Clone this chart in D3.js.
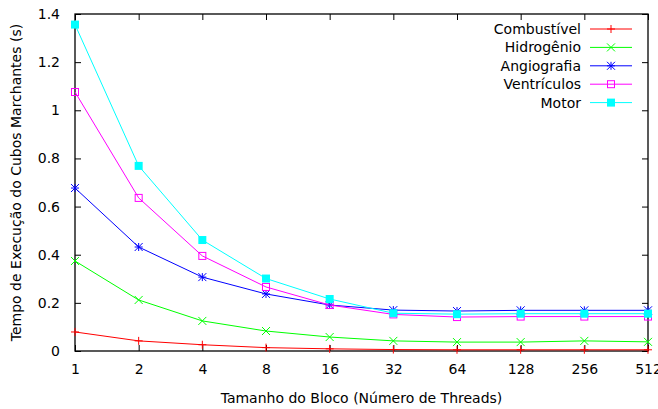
<!DOCTYPE html>
<html lang="pt">
<head>
<meta charset="UTF-8">
<script src="https://d3js.org/d3.v7.min.js"></script>
<style>
  body { margin: 0; background: #fff; }
  text { font-family: "DejaVu Sans", sans-serif; font-size: 14px; fill: #000; }
</style>
</head>
<body>
<div id="container"></div>
<script>
// dados
var blocos = [1, 2, 4, 8, 16, 32, 64, 128, 256, 512];
var combustivel = [0.079, 0.042, 0.026, 0.014, 0.009, 0.006, 0.005, 0.005, 0.005, 0.005];
var hidrogenio  = [0.374, 0.212, 0.125, 0.083, 0.058, 0.042, 0.037, 0.037, 0.042, 0.038];
var angiografia = [0.677, 0.432, 0.307, 0.237, 0.191, 0.170, 0.166, 0.169, 0.169, 0.169];
var ventriculos = [1.076, 0.636, 0.395, 0.266, 0.191, 0.152, 0.141, 0.143, 0.143, 0.143];
var motor       = [1.356, 0.769, 0.461, 0.301, 0.216, 0.157, 0.153, 0.155, 0.155, 0.155];
var yTicks = [0, 0.2, 0.4, 0.6, 0.8, 1, 1.2, 1.4];

var series = [
  {name: "Combustível", values: combustivel, color: "#ff0000", marker: "plus"},
  {name: "Hidrogênio",  values: hidrogenio,  color: "#00ff00", marker: "cross"},
  {name: "Angiografia", values: angiografia, color: "#0000ff", marker: "star"},
  {name: "Ventrículos", values: ventriculos, color: "#ff00ff", marker: "box"},
  {name: "Motor",       values: motor,       color: "#00ffff", marker: "fbox"}
];

var width = 658, height = 409;
var mLeft = 75, mRight = 648, mTop = 14, mBottom = 351;

var svg = d3.select("#container").append("svg").attr("width", width).attr("height", height);

var x = d3.scaleLog().base(2).domain([1, 512]).range([mLeft, mRight]);
var y = d3.scaleLinear().domain([0, 1.4]).range([mBottom, mTop]);

// ticks para dentro, espelhados
var g = svg.append("g");
g.append("g").attr("transform", "translate(0," + mBottom + ")")
  .call(d3.axisBottom(x).tickValues(blocos).tickFormat(d3.format("d")).tickSizeInner(-6).tickSizeOuter(0).tickPadding(13));
g.append("g").attr("transform", "translate(0," + mTop + ")")
  .call(d3.axisTop(x).tickValues(blocos).tickFormat("").tickSizeInner(-6).tickSizeOuter(0));
g.append("g").attr("transform", "translate(" + mLeft + ",0)")
  .call(d3.axisLeft(y).tickValues(yTicks).tickFormat(d3.format("~g")).tickSizeInner(-6).tickSizeOuter(0).tickPadding(15));
g.append("g").attr("transform", "translate(" + mRight + ",0)")
  .call(d3.axisRight(y).tickValues(yTicks).tickFormat("").tickSizeInner(-6).tickSizeOuter(0));
g.selectAll(".domain").remove();
g.selectAll(".tick line").attr("stroke", "#000");
g.selectAll("text").attr("font-size", 14).attr("font-family", "DejaVu Sans, sans-serif");

svg.append("rect").attr("x", mLeft).attr("y", mTop).attr("width", mRight - mLeft).attr("height", mBottom - mTop)
  .attr("fill", "none").attr("stroke", "#000").attr("stroke-width", 1.3);

function drawMarker(sel, type, color, cx, cy) {
  var s = 4;
  if (type === "plus") {
    sel.append("path").attr("d", "M" + (cx - s) + "," + cy + "H" + (cx + s) + "M" + cx + "," + (cy - s) + "V" + (cy + s))
      .attr("stroke", color).attr("fill", "none");
  } else if (type === "cross") {
    sel.append("path").attr("d", "M" + (cx - s) + "," + (cy - s) + "L" + (cx + s) + "," + (cy + s) + "M" + (cx - s) + "," + (cy + s) + "L" + (cx + s) + "," + (cy - s))
      .attr("stroke", color).attr("fill", "none");
  } else if (type === "star") {
    sel.append("path").attr("d", "M" + (cx - s) + "," + cy + "H" + (cx + s) + "M" + cx + "," + (cy - s) + "V" + (cy + s) +
      "M" + (cx - s) + "," + (cy - s) + "L" + (cx + s) + "," + (cy + s) + "M" + (cx - s) + "," + (cy + s) + "L" + (cx + s) + "," + (cy - s))
      .attr("stroke", color).attr("fill", "none");
  } else if (type === "box") {
    sel.append("rect").attr("x", cx - 3.5).attr("y", cy - 3.5).attr("width", 7).attr("height", 7)
      .attr("stroke", color).attr("fill", "none");
  } else {
    sel.append("rect").attr("x", cx - 4).attr("y", cy - 4).attr("width", 8).attr("height", 8)
      .attr("fill", color);
  }
}

var line = d3.line().x(function(d, i) { return x(blocos[i]); }).y(function(d) { return y(d); });

series.forEach(function(s) {
  var sg = svg.append("g");
  sg.append("path").datum(s.values).attr("fill", "none").attr("stroke", s.color).attr("stroke-width", 1).attr("d", line);
  s.values.forEach(function(v, i) { drawMarker(sg, s.marker, s.color, x(blocos[i]), y(v)); });
});

// legenda
series.forEach(function(s, i) {
  var ly = 29 + i * 18.4;
  svg.append("text").attr("x", 581).attr("y", ly).attr("dy", "0.35em").attr("text-anchor", "end").text(s.name);
  svg.append("line").attr("x1", 590).attr("x2", 632).attr("y1", ly).attr("y2", ly).attr("stroke", s.color);
  drawMarker(svg, s.marker, s.color, 611, ly);
});

// rótulos dos eixos
svg.append("text").attr("x", (mLeft + mRight) / 2).attr("y", 403).attr("text-anchor", "middle")
  .text("Tamanho do Bloco (Número de Threads)");
svg.append("text").attr("transform", "translate(21," + ((mTop + mBottom) / 2) + ") rotate(-90)").attr("text-anchor", "middle")
  .text("Tempo de Execução do Cubos Marchantes (s)");
</script>
</body>
</html>
